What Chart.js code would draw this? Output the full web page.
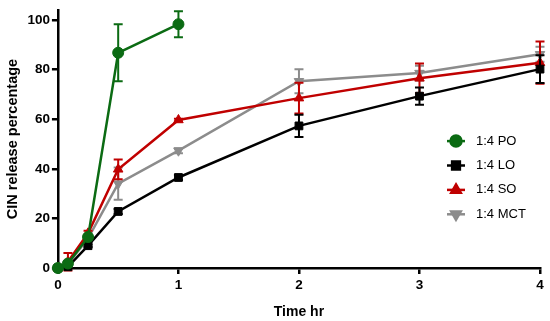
<!DOCTYPE html>
<html><head><meta charset="utf-8">
<script src="https://cdn.jsdelivr.net/npm/chart.js@4.4.0/dist/chart.umd.min.js"></script>
<style>html,body{margin:0;padding:0;background:#fff}#wrap{width:550px;height:321px}</style>
</head><body><div id="wrap"><canvas id="c"></canvas></div>
<script>
const times = [0, 0.083, 0.25, 0.5, 1, 2, 3, 4];
const seriesNames = ['1:4 PO', '1:4 LO', '1:4 SO', '1:4 MCT'];
const PO = [0, 1.8, 12.5, 86.8, 98.3];
const PO_err = [0, 0, 0, 11.5, 5.2];
const LO = [0, 0.5, 9, 22.8, 36.5, 57.3, 69.3, 80.2];
const LO_err = [0, 0, 0.5, 1, 1, 4.5, 3.5, 5.6];
const SO = [0, 2.5, 14, 39.8, 59.7, 68.5, 76.5, 82.8];
const SO_err = [0, 3.5, 1, 4, 0.5, 6.2, 6, 8.5];
const MCT = [0, 1.5, 12, 34, 47.3, 75.3, 78.6, 86.2];
const MCT_err = [0, 1, 1, 6.5, 1, 4.8, 3, 3];
const yTicks = [0, 20, 40, 60, 80, 100];
const xTicks = [0, 1, 2, 3, 4];

const colors = ['#0b6b13', '#000000', '#c00000', '#8c8c8c'];
const styles = ['circle', 'rect', 'triangle', 'triangle'];
const rots = [0, 0, 0, 180];
const vals = [PO, LO, SO, MCT];
const errs = [PO_err, LO_err, SO_err, MCT_err];

const datasets = vals.map((v, i) => ({
  label: seriesNames[i],
  data: v.map((y, k) => ({x: times[k], y: y, e: errs[i][k]})),
  borderColor: colors[i], backgroundColor: colors[i],
  pointBackgroundColor: colors[i], pointBorderColor: colors[i],
  pointStyle: styles[i], rotation: rots[i],
  pointRadius: 5.5, borderWidth: 2.5, pointBorderWidth: 1,
  showLine: true, fill: false, clip: false
}));

const errorBars = {
  id: 'errorBars',
  beforeDatasetDraw(chart, args) {
    const i = args.index;
    const ds = chart.data.datasets[i];
    const xs = chart.scales.x, ys = chart.scales.y;
    const ctx = chart.ctx;
    ctx.save();
    ctx.strokeStyle = ds.borderColor; ctx.lineWidth = 2;
    ds.data.forEach(p => {
      if (!p.e) return;
      const px = xs.getPixelForValue(p.x);
      const t = ys.getPixelForValue(p.y + p.e), b = ys.getPixelForValue(p.y - p.e);
      ctx.beginPath();
      ctx.moveTo(px, t); ctx.lineTo(px, b);
      ctx.moveTo(px - 4.5, t); ctx.lineTo(px + 4.5, t);
      ctx.moveTo(px - 4.5, b); ctx.lineTo(px + 4.5, b);
      ctx.stroke();
    });
    ctx.restore();
  }
};

const customLegend = {
  id: 'customLegend',
  afterDraw(chart) {
    const ctx = chart.ctx, a = chart.chartArea;
    const x0 = a.right - 84, y0 = a.top + 131, dy = 24.4;
    chart.data.datasets.forEach((ds, i) => {
      const y = y0 + i * dy;
      ctx.save();
      ctx.strokeStyle = ds.borderColor; ctx.lineWidth = 2.5;
      ctx.beginPath(); ctx.moveTo(x0 - 9, y); ctx.lineTo(x0 + 9, y); ctx.stroke();
      Chart.helpers.drawPoint(ctx, {pointStyle: ds.pointStyle, rotation: ds.rotation, radius: ds.pointRadius, borderWidth: 1}, x0, y);
      ctx.fillStyle = ds.borderColor;
      ctx.fill();
      ctx.fillStyle = '#000';
      ctx.font = '13px "Liberation Sans", Arial, sans-serif';
      ctx.textBaseline = 'middle'; ctx.textAlign = 'left';
      ctx.fillText(ds.label, x0 + 20, y);
      ctx.restore();
    });
  }
};

new Chart(document.getElementById('c'), {
  type: 'scatter',
  data: {datasets},
  plugins: [errorBars, customLegend],
  options: {
    responsive: true, maintainAspectRatio: false, animation: false,
    layout: {padding: {top: 0, right: 10, bottom: 0, left: 4}},
    plugins: {legend: {display: false}, tooltip: {enabled: false}},
    scales: {
      x: {
        type: 'linear', min: 0, max: 4,
        afterBuildTicks(s) { s.ticks = xTicks.map(v => ({value: v})); },
        border: {color: '#000', width: 2.5},
        grid: {drawOnChartArea: false, color: '#000', lineWidth: 2.5, tickLength: 6},
        ticks: {color: '#000', font: {family: '"Liberation Sans", Arial', size: 13.5, weight: 'bold'}, padding: 3, maxRotation: 0},
        title: {display: true, text: 'Time hr', color: '#000', font: {family: '"Liberation Sans", Arial', size: 14, weight: 'bold'}, padding: {top: 8, bottom: 0}}
      },
      y: {
        min: 0, max: 104,
        afterBuildTicks(s) { s.ticks = yTicks.map(v => ({value: v})); },
        border: {color: '#000', width: 2.5},
        grid: {drawOnChartArea: false, color: '#000', lineWidth: 2.5, tickLength: 6},
        ticks: {color: '#000', font: {family: '"Liberation Sans", Arial', size: 13.5, weight: 'bold'}, padding: 2},
        title: {display: true, text: 'CIN release percentage', color: '#000', font: {family: '"Liberation Sans", Arial', size: 14.5, weight: 'bold'}, padding: {top: 0, bottom: 4}}
      }
    }
  }
});
</script></body></html>
